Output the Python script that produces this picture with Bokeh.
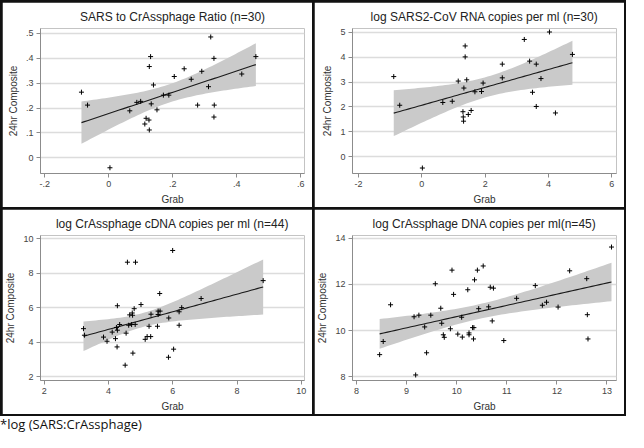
import numpy as np
from bokeh.plotting import figure
from bokeh.models import GridBox, Div, Column, ColumnDataSource, FixedTicker, Range1d
from bokeh.embed import file_html
from bokeh.resources import INLINE

# ---------------- data ----------------
titles = ["SARS to CrAssphage Ratio (n=30)",
          "log SARS2-CoV RNA copies per ml (n=30)",
          "log CrAssphage cDNA copies per ml (n=44)",
          "log CrAssphage DNA copies per ml(n=45)"]

ratio_grab = [-0.085, -0.066, 0.004, 0.066, 0.088, 0.100, 0.113, 0.117, 0.126, 0.127,
              0.127, 0.131, 0.133, 0.140, 0.151, 0.171, 0.188, 0.205, 0.236, 0.258,
              0.278, 0.291, 0.312, 0.319, 0.329, 0.330, 0.329, 0.416, 0.460]
ratio_comp = [0.264, 0.212, -0.040, 0.189, 0.223, 0.227, 0.136, 0.159, 0.152, 0.112,
              0.367, 0.407, 0.217, 0.293, 0.193, 0.252, 0.252, 0.327, 0.358, 0.316,
              0.212, 0.348, 0.286, 0.486, 0.400, 0.212, 0.164, 0.337, 0.407]

rna_grab = [-0.887, -0.698, 0.017, 0.663, 0.961, 1.150, 1.299, 1.309, 1.319, 1.329,
            1.369, 1.369, 1.419, 1.468, 1.558, 1.677, 1.886, 1.936, 2.542, 2.542,
            3.237, 3.406, 3.496, 3.615, 3.615, 3.764, 4.032, 4.221, 4.758]
rna_comp = [3.22, 2.07, -0.45, 2.18, 2.23, 3.04, 1.81, 1.60, 1.43, 2.76,
            4.45, 4.01, 3.09, 1.70, 1.86, 2.61, 2.62, 2.96, 3.72, 3.17,
            4.71, 3.84, 2.59, 3.72, 2.02, 3.14, 5.01, 1.76, 4.11]

cdna_grab = [3.218, 3.248, 3.842, 3.952, 4.113, 4.214, 4.244, 4.264, 4.274, 4.274,
             4.345, 4.546, 4.516, 4.586, 4.626, 4.657, 4.717, 4.737, 4.747, 4.757,
             4.797, 4.828, 4.838, 5.009, 5.140, 5.200, 5.260, 5.311, 5.321, 5.522,
             5.542, 5.542, 5.592, 5.603, 5.874, 5.864, 5.995, 6.025, 6.196, 6.196,
             6.277, 6.881, 8.813]
cdna_comp = [4.79, 4.41, 4.30, 4.06, 4.59, 4.21, 4.86, 3.73, 4.70, 6.12,
             5.03, 4.53, 2.67, 8.65, 4.99, 5.59, 5.03, 5.70, 5.57, 3.37,
             5.95, 5.04, 8.65, 6.19, 4.17, 4.33, 4.93, 4.33, 5.63, 4.93,
             5.61, 5.81, 6.83, 5.81, 5.41, 3.13, 9.33, 3.60, 4.99, 5.77,
             6.01, 6.54, 7.58]

dna_grab = [8.462, 8.533, 8.680, 9.149, 9.181, 9.245, 9.361, 9.399, 9.483, 9.573,
            9.682, 9.701, 9.733, 9.752, 9.874, 9.906, 9.938, 10.022, 10.112, 10.099,
            10.221, 10.246, 10.246, 10.317, 10.343, 10.336, 10.356, 10.413, 10.439, 10.529,
            10.638, 10.670, 10.734, 10.709, 10.940, 11.196, 11.569, 11.710, 11.793, 12.024,
            12.255, 12.596, 12.608, 12.621, 13.090]
dna_comp = [8.96, 9.53, 11.12, 10.60, 8.08, 10.67, 10.16, 9.04, 10.67, 12.03,
            10.97, 10.32, 9.82, 9.71, 10.08, 12.62, 11.57, 9.85, 9.72, 10.58,
            11.77, 9.90, 9.82, 10.13, 10.13, 9.64, 12.20, 12.62, 10.95, 12.80,
            11.03, 11.88, 11.84, 10.42, 9.57, 11.40, 11.95, 11.10, 11.23, 11.02,
            12.59, 12.25, 10.69, 9.64, 13.62]

x_ticks = [[-0.2, 0, 0.2, 0.4, 0.6], [-2, 0, 2, 4, 6], [2, 4, 6, 8, 10], [8, 9, 10, 11, 12, 13]]
x_tick_labels = [["-.2", "0", ".2", ".4", ".6"], ["-2", "0", "2", "4", "6"],
                 ["2", "4", "6", "8", "10"], ["8", "9", "10", "11", "12", "13"]]
y_ticks = [[0, 0.1, 0.2, 0.3, 0.4, 0.5], [0, 1, 2, 3, 4, 5], [2, 4, 6, 8, 10], [8, 10, 12, 14]]
y_tick_labels = [["0", ".1", ".2", ".3", ".4", ".5"], ["0", "1", "2", "3", "4", "5"],
                 ["2", "4", "6", "8", "10"], ["8", "10", "12", "14"]]
x_ranges = [(-0.213, 0.612), (-2.19, 6.15), (1.88, 10.1), (7.92, 13.19)]
y_ranges = [(-0.063, 0.52), (-0.67, 5.15), (1.78, 10.2), (7.84, 14.12)]
t_crit = [2.052, 2.052, 2.020, 2.017]

series = [(ratio_grab, ratio_comp), (rna_grab, rna_comp),
          (cdna_grab, cdna_comp), (dna_grab, dna_comp)]

FONT = "Liberation Sans"


def panel(i):
    xs, ys = np.array(series[i][0]), np.array(series[i][1])
    p = figure(width=310, height=205, output_backend="svg", toolbar_location=None,
               x_range=Range1d(*x_ranges[i]), y_range=Range1d(*y_ranges[i]),
               min_border_left=36, min_border_right=8, min_border_top=8,
               min_border_bottom=30, background_fill_color="white",
               border_fill_color="white", outline_line_color=None)
    p.title.text = titles[i]
    p.title.align = "center"
    p.title.text_font = FONT
    p.title.text_font_size = "12px"
    p.title.text_font_style = "normal"
    p.title.text_color = "#222222"

    # regression + 95% CI of the mean
    n = len(xs)
    b, a = np.polyfit(xs, ys, 1)
    xg = np.linspace(xs.min(), xs.max(), 60)
    yhat = a + b * xg
    resid = ys - (a + b * xs)
    s = np.sqrt(np.sum(resid ** 2) / (n - 2))
    se = s * np.sqrt(1 / n + (xg - xs.mean()) ** 2 / np.sum((xs - xs.mean()) ** 2))
    band = ColumnDataSource(dict(x=xg, lo=yhat - t_crit[i] * se, hi=yhat + t_crit[i] * se, y=yhat))
    p.varea(x="x", y1="lo", y2="hi", source=band, fill_color="#cacaca")
    p.line(x="x", y="y", source=band, line_color="#1a1a1a", line_width=1.1)
    p.scatter(xs, ys, marker="cross", size=5, line_color="black", line_width=1)

    p.xgrid.grid_line_color = None
    p.ygrid.grid_line_color = "#dcdcdc"
    p.ygrid.grid_line_width = 1.3
    p.ygrid.ticker = FixedTicker(ticks=y_ticks[i])
    for ax, tk, lb, name in ((p.xaxis[0], x_ticks[i], x_tick_labels[i], "Grab"),
                             (p.yaxis[0], y_ticks[i], y_tick_labels[i], "24hr Composite")):
        ax.ticker = FixedTicker(ticks=tk)
        ax.major_label_overrides = {t: l for t, l in zip(tk, lb)}
        ax.axis_label = name
        ax.axis_label_text_font = FONT
        ax.axis_label_text_font_size = "10px"
        ax.axis_label_text_font_style = "normal"
        ax.axis_label_text_color = "#333333"
        ax.axis_label_standoff = 4
        ax.major_label_text_font = FONT
        ax.major_label_text_font_size = "9px"
        ax.major_label_text_color = "#444444"
        ax.axis_line_color = "#8c8c8c"
        ax.major_tick_line_color = "#8c8c8c"
        ax.major_tick_out = 4
        ax.major_tick_in = 0
        ax.minor_tick_line_color = None
        ax.major_label_standoff = 3
    p.yaxis.major_label_orientation = "horizontal"
    return p


panels = [panel(i) for i in range(4)]
grid = GridBox(children=[(panels[0], 0, 0), (panels[1], 0, 1), (panels[2], 1, 0), (panels[3], 1, 1)],
               spacing=2, styles={"background-color": "#111111", "padding": "2px"})
caption = Div(text="*log (SARS:CrAssphage)", width=300, height=16,
              styles={"font-family": "Open Sans", "font-size": "13px", "color": "#111111",
                      "margin": "0", "line-height": "16px"})
layout = Column(children=[grid, caption], spacing=0)

open("out.html", "w").write(file_html(layout, INLINE))
